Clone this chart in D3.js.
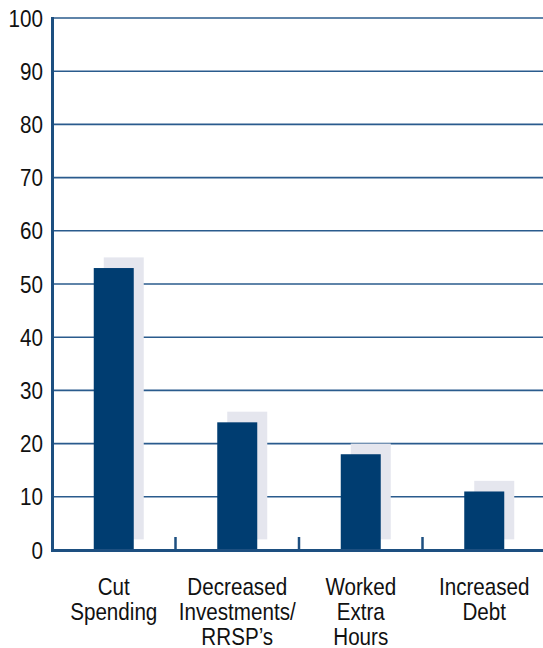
<!DOCTYPE html>
<html><head><meta charset="utf-8">
<script src="https://cdn.jsdelivr.net/npm/d3@7"></script>
<style>
html,body{margin:0;padding:0;background:#fff;}
text{font-family:"Liberation Sans",Arial,Helvetica,sans-serif;fill:#111;}
</style></head>
<body>
<svg id="c" width="543" height="648"></svg>
<script>
const categories = [["Cut","Spending"],["Decreased","Investments/","RRSP\u2019s"],["Worked","Extra","Hours"],["Increased","Debt"]];
const values = [53, 24, 18, 11];
const shadowLift = 2; // shadow offset in value units
const yTicks = [0,10,20,30,40,50,60,70,80,90,100];

const svg = d3.select("#c");
const x = d3.scaleBand().domain(d3.range(categories.length)).range([52, 546]);
const y = d3.scaleLinear().domain([0,100]).range([550, 18]);
const barW = 40, shadowDx = 10, squeeze = 0.86;

// gridlines
svg.append("g").selectAll("line").data(yTicks.filter(d=>d>0)).join("line")
  .attr("x1",52).attr("x2",543).attr("y1",d=>y(d)).attr("y2",d=>y(d))
  .attr("stroke","#2a5b8d").attr("stroke-width",1.6);

// shadows
svg.append("g").selectAll("rect").data(values).join("rect")
  .attr("x",(d,i)=>x(i)+x.bandwidth()/2-barW/2+shadowDx)
  .attr("y",d=>y(d+shadowLift))
  .attr("width",barW)
  .attr("height",d=>y(shadowLift)-y(d+shadowLift))
  .attr("fill","#e5e6ee");

// bars
svg.append("g").selectAll("rect").data(values).join("rect")
  .attr("x",(d,i)=>x(i)+x.bandwidth()/2-barW/2)
  .attr("y",d=>y(d))
  .attr("width",barW)
  .attr("height",d=>y(0)-y(d))
  .attr("fill","#003d71");

// y axis line
svg.append("line").attr("x1",52.5).attr("x2",52.5).attr("y1",y(100)-1).attr("y2",y(0)+2)
  .attr("stroke","#1d4f80").attr("stroke-width",3);
// x axis line
svg.append("line").attr("x1",51).attr("x2",543).attr("y1",y(0)+0.5).attr("y2",y(0)+0.5)
  .attr("stroke","#1d4f80").attr("stroke-width",3);
// separator ticks
svg.append("g").selectAll("line").data(d3.range(1,categories.length)).join("line")
  .attr("x1",i=>x(i)).attr("x2",i=>x(i)).attr("y1",y(0)-13).attr("y2",y(0))
  .attr("stroke","#1d4f80").attr("stroke-width",2.5);

// y tick labels
svg.append("g").selectAll("text").data(yTicks).join("text")
  .attr("transform",d=>`translate(43,${y(d)+8.5}) scale(${squeeze},1)`)
  .attr("text-anchor","end").attr("font-size",24)
  .text(d=>d);

// category labels
const lab = svg.append("g").selectAll("text").data(categories).join("text")
  .attr("text-anchor","middle").attr("font-size",24)
  .attr("transform",(d,i)=>`translate(${x(i)+x.bandwidth()/2},595) scale(${squeeze},1)`);
lab.selectAll("tspan").data(d=>d).join("tspan")
  .attr("x",0)
  .attr("dy",(d,j)=>j===0?0:25)
  .text(d=>d);
</script>
</body></html>
